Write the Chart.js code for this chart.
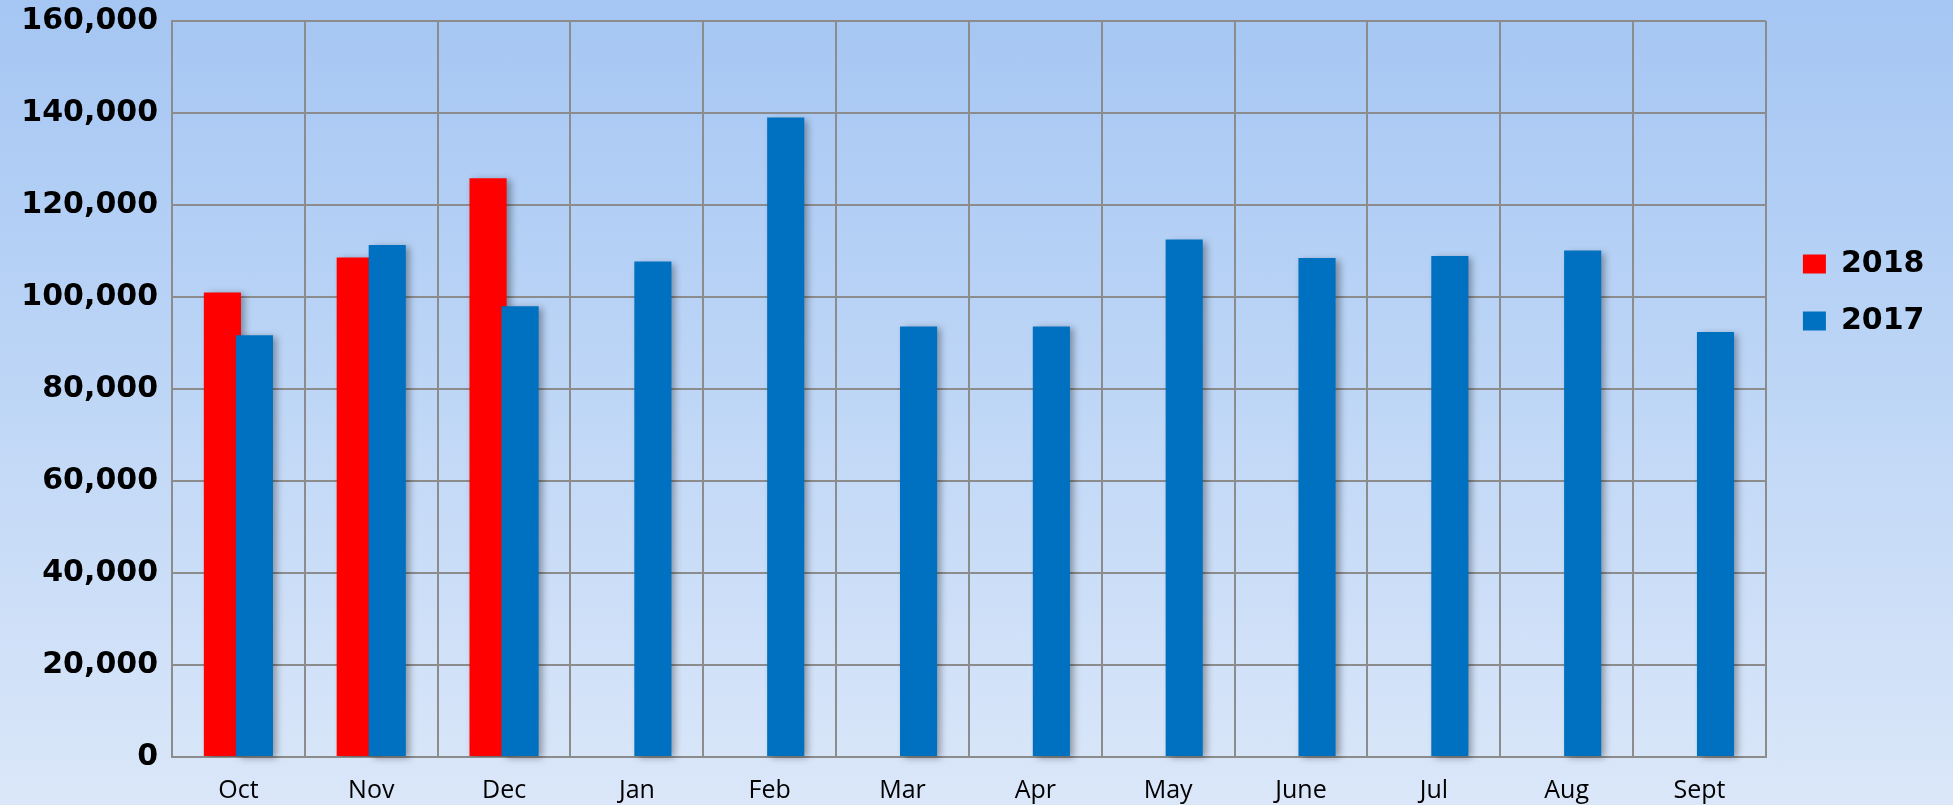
<!DOCTYPE html>
<html>
<head>
<meta charset="utf-8">
<script src="https://cdn.jsdelivr.net/npm/chart.js@4.4.1/dist/chart.umd.min.js"></script>
<style>
  html, body { margin: 0; padding: 0; }
  body { width: 1953px; height: 805px; background: linear-gradient(to bottom, #a5c6f3 0%, #bcd5f6 45%, #dbe7f9 100%); overflow: hidden; }
  #wrap { position: relative; width: 1953px; height: 805px; }
  canvas { display: block; }
</style>
</head>
<body>
<div id="wrap"><canvas id="c" width="1953" height="805"></canvas></div>
<script>
const categories = ['Oct', 'Nov', 'Dec', 'Jan', 'Feb', 'Mar', 'Apr', 'May', 'June', 'Jul', 'Aug', 'Sept'];
const values2018 = [101000, 108600, 125800, null, null, null, null, null, null, null, null, null];
const values2017 = [91700, 111300, 98000, 107700, 139000, 93600, 93600, 112500, 108500, 108900, 110100, 92400];
const seriesNames = ['2018', '2017'];
const seriesColors = ['#ff0000', '#0070c0'];
const yMin = 0, yMax = 160000, yStep = 20000;

// draws bars with a soft drop shadow and paints the 2017 series over the 2018 series
const overlapPlugin = {
  id: 'overlapShadow',
  beforeDatasetsDraw(chart) {
    const ctx = chart.ctx;
    ctx.save();
    ctx.shadowColor = 'rgba(0,0,0,0.35)';
    ctx.shadowBlur = 7;
    ctx.shadowOffsetX = 4;
    ctx.shadowOffsetY = 2;
  },
  beforeDatasetDraw(chart, args) {
    if (args.index === 1 && !chart.$drawLate) return false;
  },
  afterDatasetsDraw(chart) {
    chart.$drawLate = true;
    const meta = chart.getDatasetMeta(1);
    if (meta && !meta.hidden) meta.controller.draw();
    chart.$drawLate = false;
    chart.ctx.restore();
  }
};

const gridColor = '#8c8c8c';
const catPct = 0.482, barPct = 1.16;

new Chart(document.getElementById('c'), {
  type: 'bar',
  data: {
    labels: categories,
    datasets: [
      { label: seriesNames[0], data: values2018, backgroundColor: seriesColors[0], borderWidth: 0, categoryPercentage: catPct, barPercentage: barPct },
      { label: seriesNames[1], data: values2017, backgroundColor: seriesColors[1], borderWidth: 0, categoryPercentage: catPct, barPercentage: barPct }
    ]
  },
  options: {
    responsive: false,
    animation: false,
    layout: { padding: { top: 21, left: 0, bottom: 0, right: 18.6 } },
    plugins: {
      tooltip: { enabled: false },
      legend: {
        position: 'right',
        align: 'start',
        title: { display: true, text: '', padding: { top: 186.6, bottom: 0 } },
        labels: {
          boxWidth: 23,
          boxHeight: 19,
          padding: 27,
          color: '#000',
          font: { family: 'DejaVu Sans', weight: 'bold', size: 30 }
        }
      }
    },
    scales: {
      x: {
        type: 'category',
        offset: true,
        grid: { display: true, offset: true, color: gridColor, lineWidth: 2, drawTicks: false },
        border: { display: true, color: gridColor, width: 2 },
        ticks: { color: '#000', padding: 19, font: { family: 'Open Sans', size: 25 }, maxRotation: 0 },
        afterFit: (s) => { s.height = 48; }
      },
      y: {
        min: yMin, max: yMax,
        ticks: { stepSize: yStep, color: '#000', padding: 14, font: { family: 'DejaVu Sans', weight: 'bold', size: 30 } },
        grid: { color: gridColor, lineWidth: 2, drawTicks: false },
        border: { display: true, color: gridColor, width: 2 },
        afterFit: (s) => { s.width = 172; s.paddingTop = 0; s.paddingBottom = 0; }
      },
      y2: {
        position: 'right',
        display: true,
        grid: { display: false, drawTicks: false },
        border: { display: false },
        ticks: { display: false },
        afterFit: (s) => { s.width = 10; }
      }
    }
  },
  plugins: [overlapPlugin]
});
</script>
</body>
</html>
